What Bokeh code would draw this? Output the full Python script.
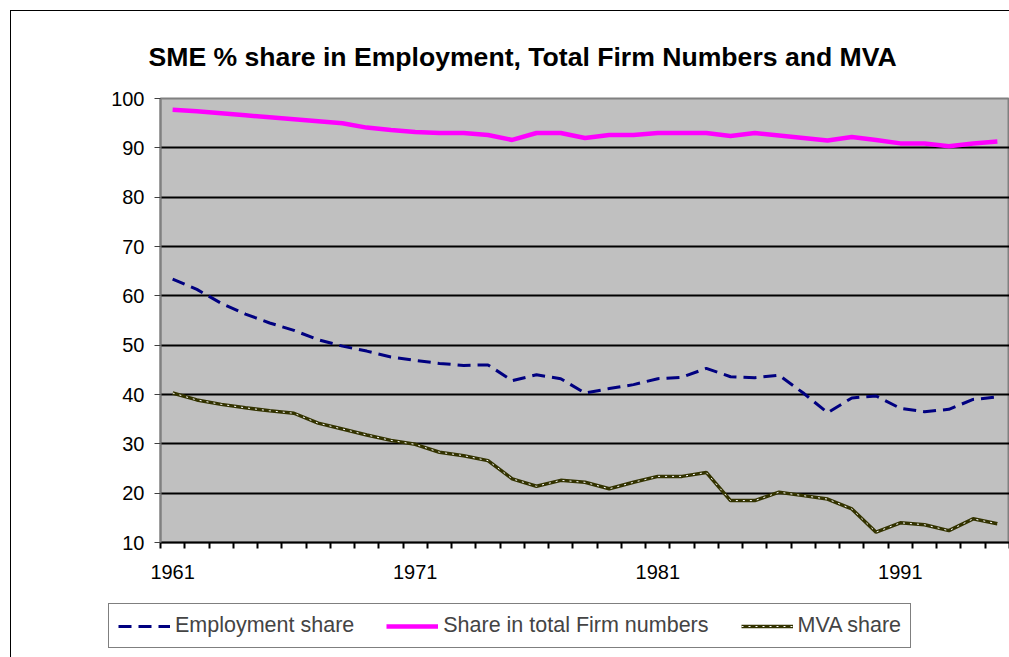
from bokeh.plotting import figure
from bokeh.layouts import column
from bokeh.models import FixedTicker, Legend, LegendItem
from bokeh.embed import file_html
from bokeh.resources import INLINE

years = list(range(1961, 1996))
employment = [63.4, 61.3, 58.5, 56.3, 54.5, 53.0, 51.1, 49.8, 48.8, 47.6, 46.9, 46.3, 45.9, 46.0,
              42.8, 44.0, 43.2, 40.3, 41.2, 42.0, 43.2, 43.5, 45.3, 43.6, 43.4, 43.9, 40.3, 36.3,
              39.3, 39.7, 37.2, 36.5, 37.0, 39.0, 39.5]
firm_share = [97.7, 97.4, 97.0, 96.6, 96.2, 95.8, 95.4, 95.0, 94.1, 93.6, 93.2, 93.0, 93.0, 92.6,
              91.6, 93.0, 93.0, 92.0, 92.6, 92.6, 93.0, 93.0, 93.0, 92.4, 93.0, 92.5, 92.0, 91.5,
              92.2, 91.6, 90.9, 90.9, 90.3, 90.9, 91.3]
mva = [40.3, 38.9, 38.0, 37.3, 36.7, 36.2, 34.2, 33.0, 31.8, 30.7, 29.9, 28.3, 27.6, 26.6,
       22.9, 21.4, 22.6, 22.2, 20.9, 22.2, 23.4, 23.4, 24.2, 18.5, 18.5, 20.2, 19.5, 18.8,
       16.8, 12.1, 14.0, 13.6, 12.4, 14.8, 13.8]
labeled_years = [1961, 1971, 1981, 1991]
y_ticks = [10, 20, 30, 40, 50, 60, 70, 80, 90, 100]
series_names = ["Employment share", "Share in total Firm numbers", "MVA share"]
title_text = "SME % share in Employment, Total Firm Numbers and MVA"

FONT = "Liberation Sans"
EMP_STYLE = dict(line_color="#000080", line_width=3, line_dash="13 7")
FIRM_STYLE = dict(line_color="#FF00FF", line_width=4.5)
MVA_STYLE = dict(line_color="#333300", line_width=3.5)
MVA_DOT_STYLE = dict(line_color="white", line_width=1, line_dash="2 5")

p = figure(width=998, height=591,
           x_range=(years[0] - 0.5, years[-1] + 0.5), y_range=(y_ticks[0], y_ticks[-1]),
           output_backend="svg", toolbar_location=None,
           min_border_left=149, min_border_right=0, min_border_top=87, min_border_bottom=60,
           background_fill_color="#C0C0C0", border_fill_color="white",
           outline_line_color="#808080", outline_line_width=2,
           title=title_text)

p.title.align = "left"
p.title.text_font = FONT
p.title.text_font_size = "26.6px"
p.title.text_font_style = "bold"
p.title.text_color = "black"
p.title.offset = -12
p.title.standoff = 54

# x axis: category style, ticks at boundaries, labels at centers
p.xaxis.ticker = FixedTicker(ticks=labeled_years,
                             minor_ticks=[y - 0.5 for y in years] + [years[-1] + 0.5])
p.xaxis.major_tick_line_color = None
p.xaxis.major_tick_out = 0
p.xaxis.major_tick_in = 0
p.xaxis.minor_tick_line_color = "black"
p.xaxis.minor_tick_line_width = 2
p.xaxis.minor_tick_out = 6
p.xaxis.minor_tick_in = 0
p.xaxis.axis_line_color = "black"
p.xaxis.axis_line_width = 2
p.xaxis.major_label_text_font = FONT
p.xaxis.major_label_text_font_size = "20px"
p.xaxis.major_label_text_color = "black"
p.xaxis.major_label_standoff = 16

p.yaxis.ticker = FixedTicker(ticks=y_ticks)
p.yaxis.axis_line_color = "#808080"
p.yaxis.axis_line_width = 2
p.yaxis.major_tick_line_color = "#404040"
p.yaxis.major_tick_out = 6
p.yaxis.major_tick_in = 0
p.yaxis.minor_tick_line_color = None
p.yaxis.major_label_text_font = FONT
p.yaxis.major_label_text_font_size = "20px"
p.yaxis.major_label_text_color = "black"
p.yaxis.major_label_standoff = 10

p.xgrid.grid_line_color = None
p.ygrid.ticker = FixedTicker(ticks=y_ticks[1:-1])
p.ygrid.grid_line_color = "black"
p.ygrid.grid_line_width = 2

p.line(years, employment, **EMP_STYLE)
p.line(years, firm_share, **FIRM_STYLE)
p.line(years, mva, **MVA_STYLE)
p.line(years, mva, **MVA_DOT_STYLE)

# legend strip below the chart (same series, drawn outside its visible range)
lg = figure(width=998, height=55, x_range=(0, 1), y_range=(0, 1),
            output_backend="svg", toolbar_location=None,
            x_axis_type=None, y_axis_type=None,
            min_border_left=0, min_border_right=0, min_border_top=0, min_border_bottom=0,
            background_fill_color="white", border_fill_color="white",
            outline_line_color=None)
lg.grid.grid_line_color = None
l_emp = lg.line(years, employment, **EMP_STYLE)
l_firm = lg.line(years, firm_share, **FIRM_STYLE)
l_mva = lg.line(years, mva, **MVA_STYLE)
l_mva2 = lg.line(years, mva, **MVA_DOT_STYLE)

legend = Legend(items=[LegendItem(label=series_names[0], renderers=[l_emp]),
                       LegendItem(label=series_names[1], renderers=[l_firm]),
                       LegendItem(label=series_names[2], renderers=[l_mva, l_mva2])],
                orientation="horizontal", location=(97, 9),
                border_line_color="black", border_line_width=1.5,
                background_fill_color="white", background_fill_alpha=1,
                label_text_font=FONT, label_text_font_size="21.5px",
                glyph_width=52, label_standoff=5, spacing=32, padding=9, margin=0)
lg.add_layout(legend)

if "frame_align" in lg.properties():
    p.frame_align = False
    lg.frame_align = False
    p.margin = 0
    lg.margin = 0
    root = column(p, lg, spacing=0)
    root.margin = (10, 0, 0, 10)
    root.styles = {"border-top": "1px solid black", "border-left": "1px solid black"}
    roots = root
else:
    p.margin = (10, 0, 0, 10)
    lg.margin = (0, 0, 0, 10)
    p.styles = {"border-top": "1px solid black", "border-left": "1px solid black"}
    lg.styles = {"border-left": "1px solid black"}
    roots = [p, lg]

open("out.html", "w").write(file_html(roots, INLINE))
